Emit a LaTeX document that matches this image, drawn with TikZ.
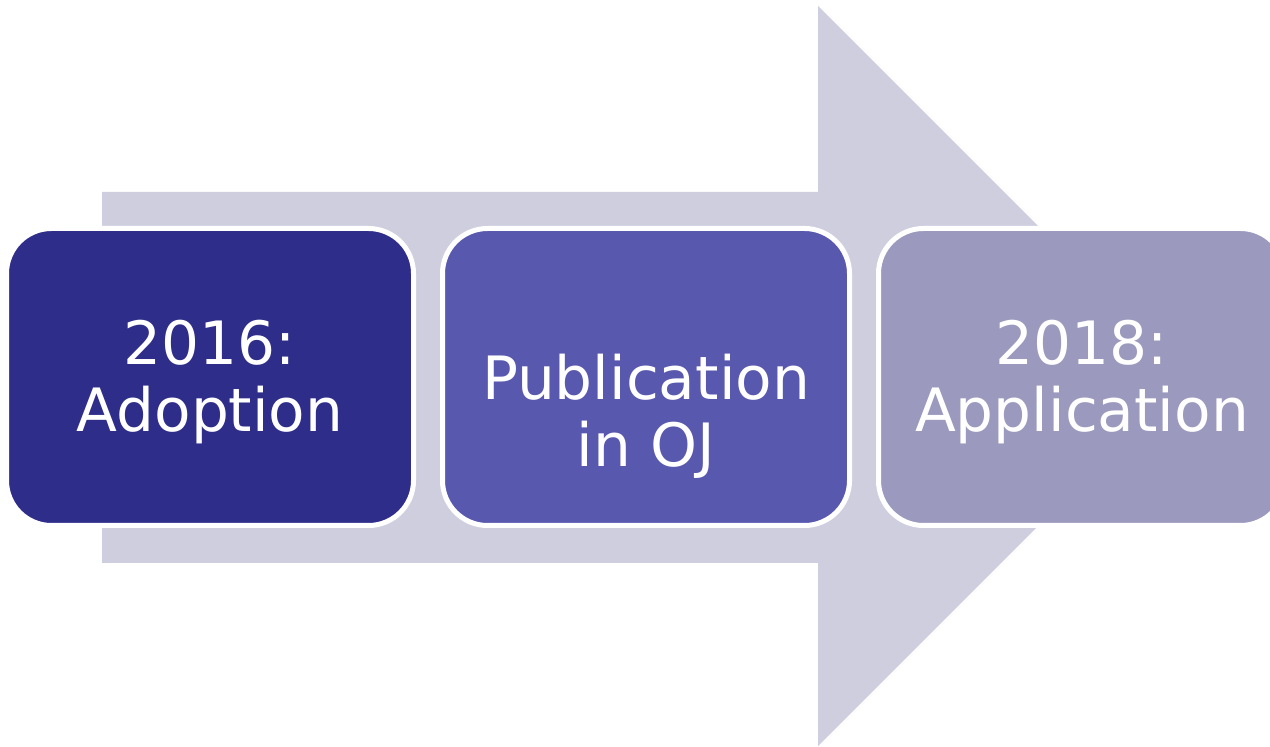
\documentclass[tikz,border=0pt]{standalone}
\usepackage{fontspec}
\setmainfont{DejaVu Sans}
\usetikzlibrary{positioning}
\definecolor{arrowgray}{HTML}{CECEDF}
\definecolor{stageone}{HTML}{2E2D8A}
\definecolor{stagetwo}{HTML}{5958AF}
\definecolor{stagethree}{HTML}{9B9ABE}
\tikzset{stage/.style={rectangle,rounded corners=0.9cm,draw=white,line width=0.1cm,
  minimum width=8.14cm,minimum height=5.94cm,inner sep=0pt},
  stagetext/.style={align=center,text=white,inner sep=0pt,font=\fontsize{34}{38}\selectfont}}

\begin{document}
\begin{tikzpicture}
\clip (0,0) rectangle (25.4,14.92);
\fill[arrowgray] (2.04,3.66) -- (2.04,11.08) -- (16.36,11.08) -- (16.36,14.8) -- (23.76,7.4) -- (16.36,0) -- (16.36,3.66) -- cycle;

\node[stage,fill=stageone,label={[stagetext,yshift=-0.1cm]center:{2016:\\Adoption}}] (adopt) at (4.2,7.38) {};
\node[stage,fill=stagetwo,right=0.48cm of adopt,label={[stagetext,yshift=-0.78cm]center:{Publication\\in OJ}}] (publ) {};
\node[stage,fill=stagethree,right=0.48cm of publ,label={[stagetext,yshift=-0.1cm]center:{2018:\\Application}}] (appl) {};

\end{tikzpicture}
\end{document}
